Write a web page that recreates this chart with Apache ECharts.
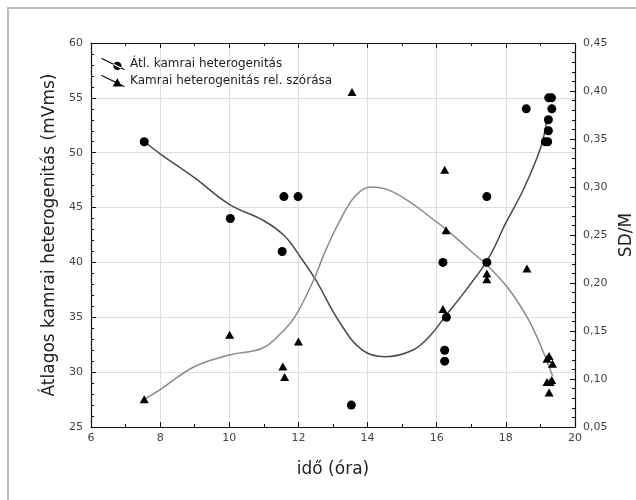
<!DOCTYPE html>
<html>
<head>
<meta charset="utf-8">
<script src="https://cdn.jsdelivr.net/npm/echarts@6/dist/echarts.min.js"></script>
<style>html,body{margin:0;padding:0;background:#fff}#c{width:636px;height:500px}</style>
</head>
<body>
<div id="c"></div>
<script>
const xTicks = { min: 6, max: 20, interval: 2 };
const leftTicks = { min: 25, max: 60, interval: 5 };
const rightTicks = { min: 0.05, max: 0.45, interval: 0.05 };

const seriesNames = ['Átl. kamrai heterogenitás', 'Kamrai heterogenitás rel. szórása'];

// Átl. kamrai heterogenitás (left axis)
const meanPoints = [
  [7.54, 51], [10.03, 44], [11.58, 46], [11.99, 46], [11.53, 41], [13.53, 27],
  [16.18, 40], [16.23, 32], [16.23, 31], [16.28, 35], [17.45, 46], [17.45, 40],
  [18.59, 54], [19.24, 55], [19.32, 55], [19.33, 54], [19.23, 53], [19.23, 52],
  [19.14, 51], [19.21, 51]
];
// Kamrai heterogenitás rel. szórása (right axis)
const sdPoints = [
  [7.54, 0.079], [10.01, 0.146], [11.55, 0.113], [11.6, 0.102], [12.0, 0.139],
  [13.55, 0.399], [16.23, 0.318], [16.27, 0.255], [16.18, 0.173], [17.45, 0.210],
  [17.45, 0.204], [18.61, 0.215], [19.19, 0.121], [19.25, 0.124], [19.35, 0.116],
  [19.19, 0.097], [19.28, 0.097], [19.33, 0.099], [19.25, 0.086]
];
// fitted curves
const meanFit = [
  [7.55, 51.0], [8.0, 49.9], [9.0, 47.7], [10.0, 45.3], [11.0, 43.8], [11.6, 42.4],
  [12.1, 40.3], [12.5, 38.4], [13.2, 34.5], [13.85, 32.0], [14.5, 31.4], [15.3, 32.0],
  [15.8, 33.3], [16.25, 35.1], [16.85, 37.5], [17.5, 40.4], [18.0, 43.6], [18.5, 46.6],
  [19.0, 50.4], [19.2, 53.2]
];
const sdFit = [
  [7.55, 0.079], [8.0, 0.089], [9.0, 0.113], [10.0, 0.125], [10.95, 0.132], [11.5, 0.148],
  [11.9, 0.165], [12.4, 0.200], [12.8, 0.235], [13.2, 0.265], [13.65, 0.291], [14.1, 0.300],
  [14.6, 0.297], [15.2, 0.285], [15.8, 0.269], [16.3, 0.255], [16.9, 0.236], [17.5, 0.217],
  [18.1, 0.193], [18.65, 0.162], [19.05, 0.131], [19.35, 0.103]
];

const font = '"DejaVu Sans", "Liberation Sans", Arial, sans-serif';
const chart = echarts.init(document.getElementById('c'), null, { renderer: 'canvas' });

const baseAxisLine = { show: true, lineStyle: { color: '#111', width: 1.2 } };
const option = {
  backgroundColor: '#fff',
  animation: false,
  textStyle: { fontFamily: font },
  graphic: [{
    type: 'rect', shape: { x: 8, y: 8, width: 700, height: 600 },
    style: { fill: 'none', stroke: '#bdbdbd', lineWidth: 2 }, silent: true
  }],
  grid: { left: 91, right: 61, top: 43, bottom: 73, containLabel: false, outerBoundsMode: 'none' },
  legend: {
    show: true, orient: 'vertical', left: 96, top: 53, itemGap: 5,
    itemWidth: 24, itemHeight: 12,
    textStyle: { fontFamily: font, fontSize: 12, color: '#222' },
    data: [
      { name: seriesNames[0], icon: 'path://M0,0.7L0.9,0L22,10.3L21.1,11Z M15,7.2m-3.8,0a3.8,3.8 0 1 0 7.6,0a3.8,3.8 0 1 0 -7.6,0' },
      { name: seriesNames[1], icon: 'path://M0,0.7L0.9,0L22,10.3L21.1,11Z M15,3L19.2,10.6L10.8,10.6Z' }
    ]
  },
  xAxis: [{
    type: 'value', position: 'bottom', min: xTicks.min, max: xTicks.max, interval: xTicks.interval,
    name: 'idő (óra)', nameLocation: 'middle', nameGap: 34,
    nameTextStyle: { fontFamily: font, fontSize: 17, color: '#222' },
    axisLine: baseAxisLine,
    axisTick: { show: true, inside: true, length: 5, lineStyle: { color: '#111' } },
    minorTick: { show: true, splitNumber: 2, length: 3, lineStyle: { color: '#111' } },
    axisLabel: { fontFamily: font, fontSize: 11, color: '#444', margin: 6 },
    splitLine: { show: true, lineStyle: { color: '#dedede', width: 1 } }
  }, {
    type: 'value', position: 'top', min: xTicks.min, max: xTicks.max, interval: xTicks.interval,
    axisLine: baseAxisLine,
    axisTick: { show: true, inside: true, length: 5, lineStyle: { color: '#111' } },
    minorTick: { show: true, splitNumber: 2, length: 3, lineStyle: { color: '#111' } },
    axisLabel: { show: false },
    splitLine: { show: false }
  }],
  yAxis: [{
    type: 'value', position: 'left', min: leftTicks.min, max: leftTicks.max, interval: leftTicks.interval,
    name: 'Átlagos kamrai heterogenitás (mVms)', nameLocation: 'middle', nameGap: 32, nameRotate: 90,
    nameTextStyle: { fontFamily: font, fontSize: 17, color: '#222' },
    axisLine: baseAxisLine,
    axisTick: { show: true, inside: true, length: 5, lineStyle: { color: '#111' } },
    minorTick: { show: true, splitNumber: 5, length: 3, lineStyle: { color: '#111' } },
    axisLabel: { fontFamily: font, fontSize: 11, color: '#444', margin: 8 },
    splitLine: { show: true, lineStyle: { color: '#dedede', width: 1 } }
  }, {
    type: 'value', position: 'right', min: rightTicks.min, max: rightTicks.max, interval: rightTicks.interval,
    name: 'SD/M', nameLocation: 'middle', nameGap: 42, nameRotate: 90,
    nameTextStyle: { fontFamily: font, fontSize: 17, color: '#222' },
    axisLine: baseAxisLine,
    axisTick: { show: true, inside: true, length: 5, lineStyle: { color: '#111' } },
    minorTick: { show: true, splitNumber: 5, length: 3, lineStyle: { color: '#111' } },
    axisLabel: { fontFamily: font, fontSize: 11, color: '#444', margin: 8,
      formatter: v => v.toFixed(2).replace('.', ',') },
    splitLine: { show: false }
  }],
  series: [
    { name: 'fit1', type: 'line', xAxisIndex: 0, yAxisIndex: 0, data: meanFit, smooth: 0.4,
      showSymbol: false, symbol: 'none', lineStyle: { color: '#4a4a4a', width: 1.5 }, z: 2 },
    { name: 'fit2', type: 'line', xAxisIndex: 0, yAxisIndex: 1, data: sdFit, smooth: 0.4,
      showSymbol: false, symbol: 'none', lineStyle: { color: '#8a8a8a', width: 1.5 }, z: 2 },
    { name: seriesNames[0], type: 'scatter', xAxisIndex: 0, yAxisIndex: 0, data: meanPoints,
      symbol: 'circle', symbolSize: 9, itemStyle: { color: '#000', opacity: 1 }, z: 3 },
    { name: seriesNames[1], type: 'scatter', xAxisIndex: 0, yAxisIndex: 1, data: sdPoints,
      symbol: 'triangle', symbolSize: [9, 8], itemStyle: { color: '#000', opacity: 1 }, z: 3 }
  ]
};
chart.setOption(option);
</script>
</body>
</html>
